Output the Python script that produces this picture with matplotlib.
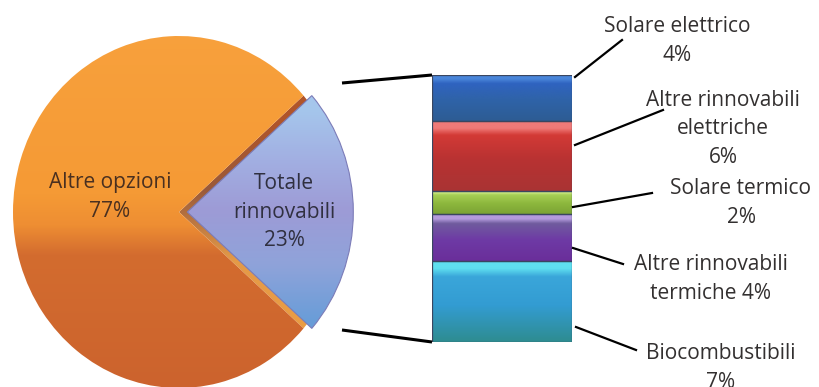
import matplotlib
matplotlib.use('Agg')
import matplotlib.pyplot as plt
import numpy as np
from matplotlib.colors import LinearSegmentedColormap

# ---------------- data ----------------
pie_names = ['Totale\nrinnovabili', 'Altre opzioni']
pie_values = [23, 77]

bar_names = ['Biocombustibili', 'Altre rinnovabili\ntermiche', 'Solare termico',
             'Altre rinnovabili\nelettriche', 'Solare elettrico']
bar_values = [7, 4, 2, 6, 4]
bar_seps = ['\n', ' ', '\n', '\n', '\n']

# ---------------- style ----------------
W, H = 819, 387
FONT = ['Open Sans', 'DejaVu Sans']
TXT = '#333030'
FS = 15
LS = 1.45

def grad_fill(ax, patch, stops, extent, z):
    cmap = LinearSegmentedColormap.from_list('g', stops)
    img = np.linspace(1, 0, 256).reshape(-1, 1)
    im = ax.imshow(img, cmap=cmap, extent=extent, origin='upper',
                   aspect='auto', zorder=z, interpolation='bilinear')
    im.set_clip_path(patch)
    return im

fig = plt.figure(figsize=(W / 100, H / 100), dpi=100)

# ---------------- pie (slightly taller than wide, as in the reference) ----------------
axp = fig.add_axes([0, 0, 1, 1])
R = 166
s = 176 / 166                     # vertical stretch
cy_px = 212
ylo, yhi = -(H - cy_px) / s, cy_px / s
start = -pie_values[0] / sum(pie_values) * 360 / 2
# shadow of the exploded slice (same angles, not exploded)
shadow, _ = axp.pie(pie_values, startangle=start, counterclock=True,
                    center=(179, 0), radius=R, wedgeprops=dict(linewidth=0))
wedges, _ = axp.pie(pie_values, startangle=start, counterclock=True,
                    explode=[0.05 * R, 0], center=(179, 0), radius=R,
                    wedgeprops=dict(linewidth=0))
axp.set_aspect('auto')

orange_stops = [(0, '#CC632D'), (1 - 255 / H, '#D36C2F'), (1 - 225 / H, '#EE8E33'),
                (1 - 195 / H, '#F59A35'), (1, '#F8A23E')]
blue_stops = [(0, '#5B9BD5'), (1 - 320 / H, '#6A9DD8'), (1 - 265 / H, '#8FA3DA'),
              (1 - 210 / H, '#9D9BD6'), (1 - 160 / H, '#A2AFE2'), (1 - 110 / H, '#A5C6EC'),
              (1, '#A5C6EC')]
shadow_stops = [(0, '#F0A040'), (1 - 260 / H, '#E49A48'), (1 - 190 / H, '#9A5A3A'),
                (1 - 120 / H, '#B0552A'), (1, '#B0552A')]
for w in list(shadow) + list(wedges):
    w.set_facecolor('none')
shadow[1].set_visible(False)
grad_fill(axp, shadow[0], shadow_stops, (0, W, ylo, yhi), 1.5)
grad_fill(axp, wedges[0], blue_stops, (0, W, ylo, yhi), 2)
grad_fill(axp, wedges[1], orange_stops, (0, W, ylo, yhi), 2)
wedges[0].set_edgecolor('#7C7CB8')
wedges[0].set_linewidth(0.8)
wedges[0].set_zorder(3)
axp.set_xlim(0, W)
axp.set_ylim(ylo, yhi)
axp.axis('off')

# ---------------- stacked bar ----------------
bx0, bx1, by0, by1 = 432, 572, 75, 342
axb = fig.add_axes([bx0 / W, (H - by1) / H, (bx1 - bx0) / W, (by1 - by0) / H])
seg_colors = [
    ['#2E8C90', '#339CD2', '#3AA6DA', '#5FE0F0'],
    ['#6A2E9A', '#6E3AA5', '#705C9E', '#B49BDD'],
    ['#7BA334', '#8DB83E', '#A6CF55', '#D2EE8A'],
    ['#A93434', '#B83232', '#D33A36', '#F07A78'],
    ['#2D5C93', '#2F63A8', '#2F63C0', '#4A86DA'],
]
total = sum(bar_values)
bottom = 0
for v, cols in zip(bar_values, seg_colors):
    b = axb.bar(0.5, v, bottom=bottom, width=1.0, color='none',
                edgecolor='#3A4660', linewidth=0.9, zorder=4)[0]
    stops = [(0, cols[0]), (0.45, cols[1]), (0.8, cols[2]), (0.9, cols[3]), (1, cols[3])]
    grad_fill(axb, b, stops, (0, 1, bottom, bottom + v), 3)
    bottom += v
axb.set_xlim(0, 1)
axb.set_ylim(0, total)
axb.axis('off')

# ---------------- overlay: texts and lines ----------------
axo = fig.add_axes([0, 0, 1, 1])
axo.set_xlim(0, W)
axo.set_ylim(H, 0)
axo.axis('off')
axo.patch.set_alpha(0)

# connectors from pie to bar
axo.plot([342, bx0], [83, by0], color='black', lw=2.2, solid_capstyle='butt')
axo.plot([342, bx0], [330, by1], color='black', lw=2.2, solid_capstyle='butt')

# pie labels
axo.text(110, 197, f'{pie_names[1]}\n{pie_values[1]}%', ha='center', va='center',
         fontsize=FS, family=FONT, color='#4A3020', linespacing=LS)
axo.text(284, 212, f'{pie_names[0]}\n{pie_values[0]}%', ha='center', va='center',
         fontsize=FS, family=FONT, color='#303040', linespacing=LS)

# bar labels with leaders (bottom-to-top order as data)
label_pos = [(721, 368), (711, 279), (741, 203), (723, 129), (677, 41)]
leader = [((576, 327), (636, 350)), ((573, 248), (623, 264)), ((573, 207), (652, 193)),
          ((575, 145), (663, 110)), ((575, 77), (622, 40))]
for name, v, sep, (tx, ty), (p0, p1) in zip(bar_names, bar_values, bar_seps, label_pos, leader):
    axo.text(tx, ty, f'{name}{sep}{v}%', ha='center', va='center', fontsize=FS,
             family=FONT, color=TXT, linespacing=LS, clip_on=False)
    axo.plot([p0[0], p1[0]], [p0[1], p1[1]], color='black', lw=1.6)

fig.savefig('out.png', dpi=100)
